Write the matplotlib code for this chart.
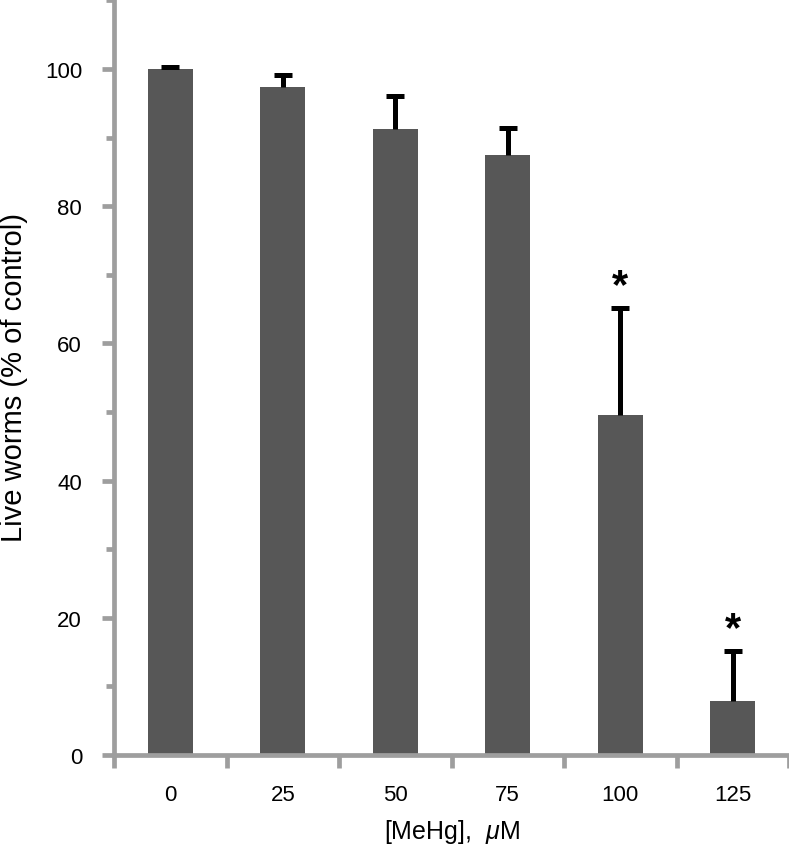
import matplotlib
matplotlib.use("Agg")
import matplotlib.pyplot as plt
from matplotlib.ticker import MultipleLocator, FixedLocator, NullFormatter

plt.rcParams['font.family'] = ['Liberation Sans', 'DejaVu Sans']
plt.rcParams['mathtext.fontset'] = 'custom'
plt.rcParams['mathtext.it'] = 'Liberation Sans:italic'
plt.rcParams['mathtext.rm'] = 'Liberation Sans'

categories = ['0', '25', '50', '75', '100', '125']
values = [100.0, 97.3, 91.3, 87.4, 49.6, 7.8]
errors = [0.3, 1.8, 4.7, 4.0, 15.6, 7.4]
significant = [False, False, False, False, True, True]

fig = plt.figure(figsize=(7.89, 8.53), dpi=100)
ax = fig.add_axes([114/789, 97/853, 675/789, 756/853])

x = list(range(len(categories)))
ax.bar(x, values, width=0.4, color='#575757', zorder=2)
eb = ax.errorbar(x, values, yerr=[[0]*len(errors), errors], fmt='none',
                 ecolor='black', elinewidth=3.6, capsize=6.5, capthick=3.6,
                 zorder=3)
# hide the lower caps (only upper error bars shown)
eb[1][0].set_visible(False)

for xi, v, e, s in zip(x, values, errors, significant):
    if s:
        ax.text(xi, v + e + 1.6, '*', ha='center', va='baseline',
                fontsize=30, fontweight='bold', color='black', zorder=4)

ax.set_xlim(-0.5, 5.5)
ax.set_ylim(0, 110.2)

axis_gray = '#9e9e9e'
for side in ['top', 'right']:
    ax.spines[side].set_visible(False)
for side in ['left', 'bottom']:
    ax.spines[side].set_color(axis_gray)
    ax.spines[side].set_linewidth(3.4)

ax.yaxis.set_major_locator(MultipleLocator(20))
ax.yaxis.set_minor_locator(FixedLocator([10, 30, 50, 70, 90, 110]))
ax.tick_params(axis='y', which='major', length=9, width=3.4, color=axis_gray,
               labelsize=16, pad=14, direction='out')
ax.tick_params(axis='y', which='minor', length=6, width=3.4, color=axis_gray,
               direction='out')

ax.set_xticks(x)
ax.set_xticklabels(categories)
ax.tick_params(axis='x', which='major', length=0, labelsize=16, pad=21)
ax.xaxis.set_minor_locator(FixedLocator([-0.5, 0.5, 1.5, 2.5, 3.5, 4.5, 5.5]))
ax.xaxis.set_minor_formatter(NullFormatter())
ax.tick_params(axis='x', which='minor', length=9, width=3.4, color=axis_gray,
               direction='out')

ax.set_ylabel('Live worms (% of control)', fontsize=21)
ax.yaxis.set_label_coords(-86/675, 0.5)
ax.set_xlabel(r'[MeHg],  $\mathit{\mu}$M', fontsize=18)
ax.xaxis.set_label_coords(0.5, -62/756)

fig.savefig('out.png', dpi=100)
